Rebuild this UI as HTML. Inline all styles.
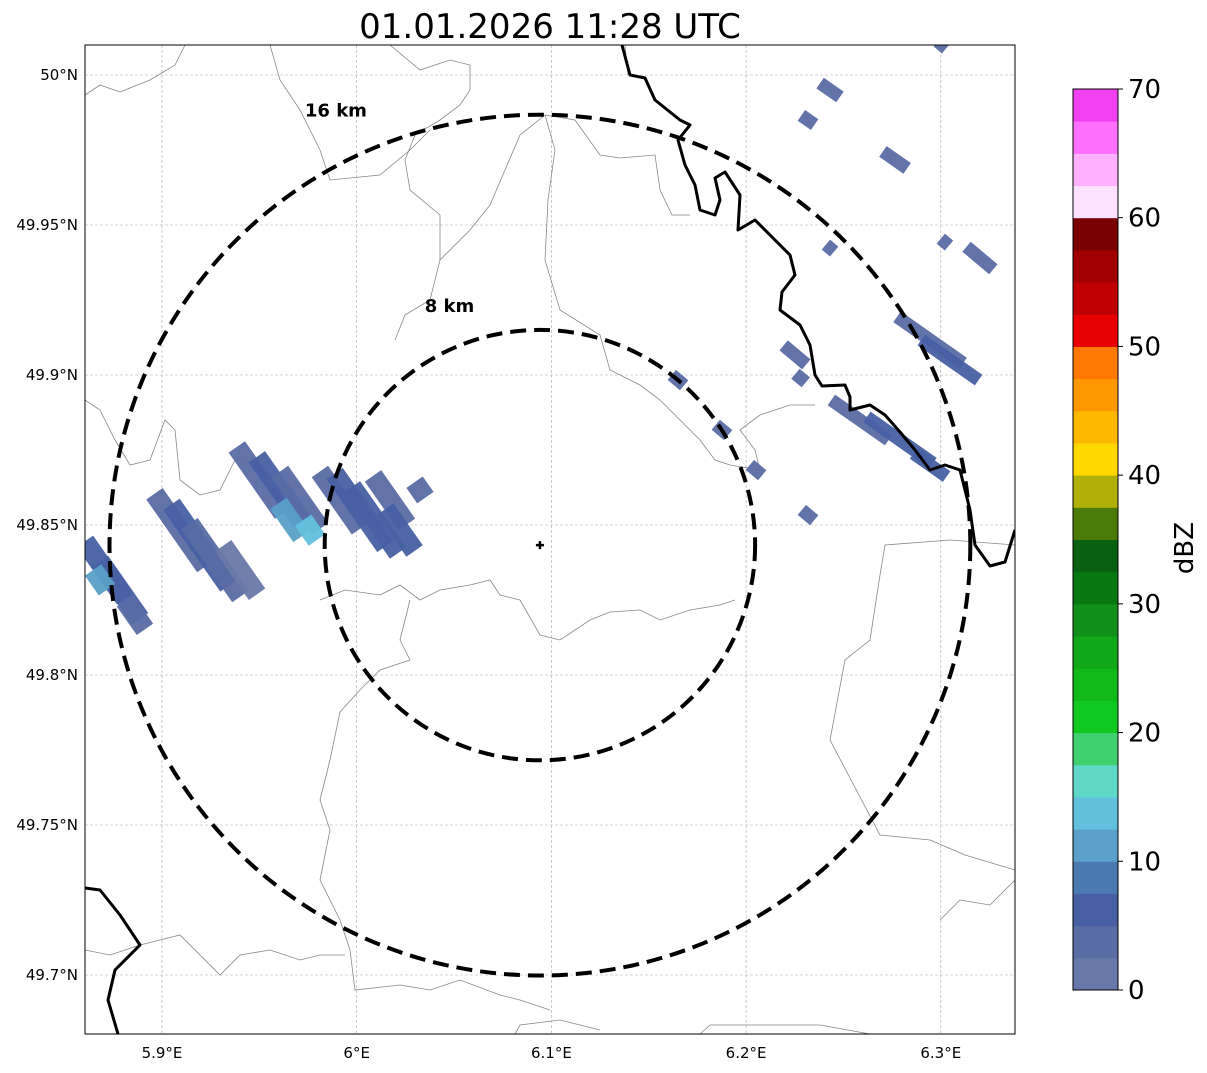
<!DOCTYPE html>
<html><head><meta charset="utf-8">
<style>
body{margin:0;background:#fff;width:1207px;height:1069px;overflow:hidden;font-family:"DejaVu Sans","Liberation Sans",sans-serif}
svg text{font-family:"DejaVu Sans","Liberation Sans",sans-serif}
</style></head>
<body>
<svg id="chart" width="1207" height="1069" viewBox="0 0 1207 1069" xmlns="http://www.w3.org/2000/svg">
<defs><clipPath id="axclip"><rect x="85" y="45" width="930" height="989"/></clipPath></defs>
<text x="550" y="38" font-size="34" text-anchor="middle">01.01.2026 11:28 UTC</text>
<g id="grid"></g>
<g id="map" clip-path="url(#axclip)"></g>
<g id="cells" clip-path="url(#axclip)"></g>
<g id="rivers" clip-path="url(#axclip)"></g>
<g id="rings" clip-path="url(#axclip)"></g>
<rect x="85" y="45" width="930" height="989" fill="none" stroke="#000" stroke-width="1"/>
<g id="ticks"></g>
<g id="cbar"></g>
<text x="0" y="0" font-size="26" text-anchor="middle" transform="translate(1193,548) rotate(-90)">dBZ</text>
</svg>
<script>
const NS='http://www.w3.org/2000/svg';
// axes
const lonTicks=[5.9,6.0,6.1,6.2,6.3];
const lonLabels=['5.9°E','6°E','6.1°E','6.2°E','6.3°E'];
const latTicks=[50.0,49.95,49.9,49.85,49.8,49.75,49.7];
const latLabels=['50°N','49.95°N','49.9°N','49.85°N','49.8°N','49.75°N','49.7°N'];
// radar
const radarLon=6.0941, radarLat=49.8433;
const ringKm=[8,16];
const ringLabels=['8 km','16 km'];
// colorbar
const cbLevels=[0,2.5,5,7.5,10,12.5,15,17.5,20,22.5,25,27.5,30,32.5,35,37.5,40,42.5,45,47.5,50,52.5,55,57.5,60,62.5,65,67.5,70];
const cbColors=['#6878a8','#5a6ca4','#4860a3','#4a7ab0','#5aa0c8','#62c0dc','#60d8c8','#40d070','#10c820','#10b818','#10a818','#109018','#087810','#086010','#4a7a08','#b0b008','#ffd800','#ffb800','#ff9800','#ff7800','#e80000','#c00000','#a00000','#7a0000','#ffe0ff','#ffb0ff','#ff70ff','#f040f0'];
const cbTicks=[0,10,20,30,40,50,60,70];
// radar echo strips
const cellLon=[5.8707,5.8784,5.8682,5.8861,5.9092,5.9195,5.9272,5.9401,5.9503,5.9606,5.9709,5.9657,5.976,5.9914,6.0017,6.0094,6.0171,6.0222,6.0325,6.2585,6.279,6.2945,6.2945,6.3047,6.2431,6.2318,6.2765,6.3201,6.2431,6.3021,6.2251,6.165,6.1876,6.2051,6.2318,6.3006,6.2280];
const cellLat=[49.835,49.8283,49.8317,49.82,49.8483,49.8433,49.8383,49.835,49.865,49.8617,49.8583,49.8517,49.8483,49.8583,49.855,49.8517,49.8583,49.8483,49.8617,49.885,49.8783,49.87,49.9117,49.905,49.995,49.985,49.9717,49.939,49.9423,49.9443,49.9067,49.8983,49.8817,49.8683,49.8533,50.01,49.899];
const cellDbz=[5,6,12,3,3,5,3,2,3,5,3,11,13,3,5,7,3,6,3,4,6,5,3,5,3,3,3,4,3,3,3,3,3,3,3,3,3];
const cellLenKm=[2.6,2.6,0.9,1.3,3.3,3.7,3.3,2.2,3.0,3.0,2.6,1.5,0.9,2.6,3.3,3.0,2.2,1.9,0.7,2.6,3.0,1.5,3.0,2.6,0.9,0.6,1.1,1.3,0.4,0.4,1.1,0.6,0.6,0.6,0.6,0.4,0.5];
const cellAngle=[55,55,55,55,55,55,55,55,55,55,55,55,55,55,55,55,55,55,55,35,35,35,35,35,35,35,35,40,40,40,40,40,40,40,40,40,40];

const X=lon=>162+(lon-5.9)*1947;
const Y=lat=>75+(50-lat)*3000;
const PXKM=26.9;
function el(tag,attrs,parent){const e=document.createElementNS(NS,tag);for(const k in attrs)e.setAttribute(k,attrs[k]);parent.appendChild(e);return e;}
const G=id=>document.getElementById(id);

// grid + ticks
lonTicks.forEach((v,i)=>{
  const l=el('line',{x1:X(v),x2:X(v),y1:45,y2:1034,stroke:'#aaa','stroke-width':0.6,'stroke-dasharray':'3,2'},G('grid'));
  
  
  const t=el('text',{x:X(v),y:1058,'font-size':15,'text-anchor':'middle'},G('ticks'));t.textContent=lonLabels[i];
  
  
});
latTicks.forEach((v,i)=>{
  const l=el('line',{x1:85,x2:1015,y1:Y(v),y2:Y(v),stroke:'#aaa','stroke-width':0.6,'stroke-dasharray':'3,2'},G('grid'));
  
  
  const t=el('text',{x:78,y:Y(v)+5,'font-size':15,'text-anchor':'end'},G('ticks'));t.textContent=latLabels[i];
  
  
});

// base map thin lines (pixel outlines of administrative borders)
const thin=[
 '85,95 100,85 120,92 150,80 175,65 185,45',
 '390,45 420,70 450,60 470,65 470,90 460,105 440,120 415,135 405,160 410,190 440,215 440,260 430,300 405,315 395,340',
 '85,400 100,410 115,440 130,465 150,460 165,420 175,430 180,480 200,495 220,490 235,460 245,455',
 '270,45 280,80 300,110 320,150 330,180 380,175 410,150 430,130',
 '545,115 520,135 490,205 470,230 440,260',
 '545,115 555,150 548,200 545,260 560,310 600,335 610,370 640,385 660,400 680,420 700,440 715,460 730,465 760,470 755,450 740,430 760,415 790,405 815,405',
 '545,115 575,120 600,155 620,158 655,155 660,190 672,215 690,215',
 '320,600 345,590 380,595 400,585 420,600 440,590 470,585 490,580 500,595 520,600 540,635 560,640 590,620 610,612 640,610 660,620 690,610 720,605 735,600',
 '410,600 400,640 410,660 380,670 360,690 340,712 330,760 320,800 330,830 320,880 340,920 350,950 355,990 400,985 430,990 460,980 500,995 520,1000 550,1010',
 '85,950 110,955 140,945 180,935 220,975 240,955 270,950 300,960 320,955 345,955',
 '515,1034 520,1025 560,1020 600,1030',
 '700,1034 710,1025 760,1025 820,1025 870,1034',
 '1015,545 950,540 885,545 880,575 870,640 845,660 830,740 880,835 930,840 965,855 1015,870',
 '1015,880 990,905 960,900 940,920',
 '625,45 628,75'
];
thin.forEach(p=>{const e=el('polyline',{points:p,fill:'none',stroke:'#888','stroke-width':0.8},G('map'));
 
 });

// echoes
function colorFor(d){let i=0;while(i<cbColors.length-1&&d>=cbLevels[i+1])i++;return cbColors[i];}
cellLon.forEach((lon,i)=>{
  const cx=X(lon),cy=Y(cellLat[i]),L=cellLenKm[i]*PXKM,w=cellAngle[i]>50?20:13;
  const r=el('rect',{x:cx-L/2,y:cy-w/2,width:L,height:w,fill:colorFor(cellDbz[i]),'fill-opacity':0.95,transform:`rotate(${cellAngle[i]} ${cx} ${cy})`},G('cells'));
  
  
});

// thick borders
const thick=[
 '622,45 630,75 645,78 655,100 680,120 690,125 678,140 685,165 695,185 700,210 715,215 720,200 715,178 725,172 740,195 738,230 755,220 770,235 790,255 795,275 782,292 780,310 800,325 810,345 815,375 822,386 845,385 850,397 850,410 870,405 885,415 900,432 915,450 930,470 945,465 960,470 965,490 970,510 975,545 990,566 1005,562 1015,530',
 '85,888 100,890 120,915 140,945 115,970 108,1000 118,1034'
];
thick.forEach(p=>{const e=el('polyline',{points:p,fill:'none',stroke:'#000','stroke-width':3,'stroke-linejoin':'round'},G('rivers'));
 
 });

// rings
const labelDx=[0.42,0.474], labelDy=[1.11,1.01];
ringKm.forEach((k,i)=>{
  const c=el('circle',{cx:X(radarLon),cy:Y(radarLat),r:k*PXKM,fill:'none',stroke:'#000','stroke-width':4,'stroke-dasharray':'16,8'},G('rings'));
  
  
  const t=el('text',{x:X(radarLon)-k*PXKM*labelDx[i],y:Y(radarLat)-k*PXKM*labelDy[i]+6,'font-size':18,'font-weight':'bold','text-anchor':'middle'},G('rings'));
  t.textContent=ringLabels[i];
  
  
});
const m=el('path',{d:`M${X(radarLon)-4},${Y(radarLat)}h8M${X(radarLon)},${Y(radarLat)-4}v8`,stroke:'#000','stroke-width':2.5},G('rings'));



// colorbar
const cbTop=89,cbBot=990,cbX=1073,cbW=45;
const CY=v=>cbBot-(v/70)*(cbBot-cbTop);
cbColors.forEach((c,i)=>{
  const y1=CY(cbLevels[i+1]),y2=CY(cbLevels[i]);
  const r=el('rect',{x:cbX,y:y1,width:cbW,height:y2-y1+0.5,fill:c},G('cbar'));
  
  
});
el('rect',{x:cbX,y:cbTop,width:cbW,height:cbBot-cbTop,fill:'none',stroke:'#000','stroke-width':1},G('cbar'));
cbTicks.forEach(v=>{
  el('line',{x1:cbX+cbW,x2:cbX+cbW+5,y1:CY(v),y2:CY(v),stroke:'#000'},G('cbar'));
  const t=el('text',{x:cbX+cbW+10,y:CY(v)+9,'font-size':26},G('cbar'));t.textContent=v;
  
  
});
</script>
</body></html>
